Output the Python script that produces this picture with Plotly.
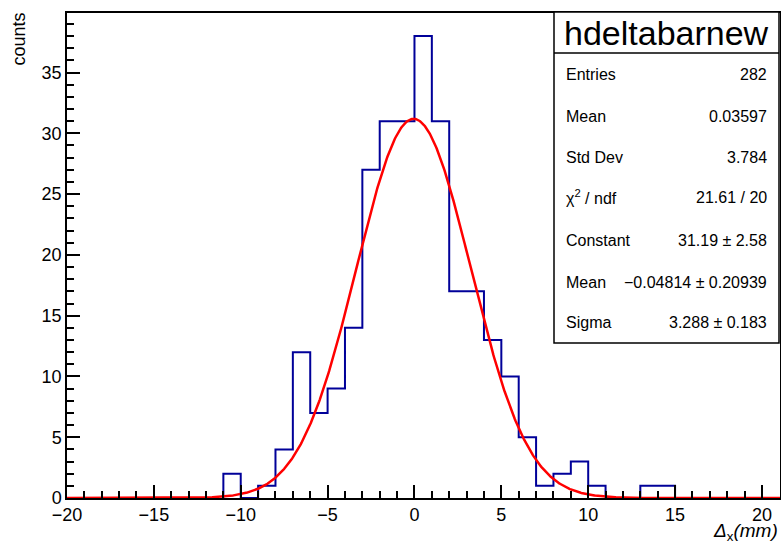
import numpy as np
import plotly.graph_objects as go

# ---- data ----
bin_low_edges = list(range(-11, 15))  # bin width 1
counts = [2, 0, 1, 4, 12, 7, 9, 14, 27, 31, 31, 38, 31, 17, 17, 13, 10, 5, 1, 2, 3, 1, 0, 0, 1, 1]
fit_constant = 31.19
fit_mean = -0.04814
fit_sigma = 3.288

stat_title = "hdeltabarnew"
stat_labels = ["Entries", "Mean", "Std Dev", "χ<sup>2</sup> / ndf", "Constant", "Mean", "Sigma"]
stat_values = ["282", "0.03597", "3.784", "21.61 / 20", "31.19 ± 2.58", "−0.04814 ± 0.20939", "3.288 ± 0.183"]

x_tick_vals = [-20, -15, -10, -5, 0, 5, 10, 15, 20]
y_tick_vals = [0, 5, 10, 15, 20, 25, 30, 35]

# ---- layout geometry ----
W, H = 781, 543
L, R, T, B = 67, 1, 13, 45
X_RANGE = [-20, 21.04]
Y_RANGE = [0, 39.9]
PW = W - L - R
PH = H - T - B


def px(xp):
    return (xp - L) / PW


def py(yp):
    return (H - B - yp) / PH


# histogram step outline from the bin data
bw = 1
sx, sy = [bin_low_edges[0]], [0]
for lo, c in zip(bin_low_edges, counts):
    sx += [lo, lo + bw]
    sy += [c, c]
sx.append(bin_low_edges[-1] + bw)
sy.append(0)

xf = np.linspace(X_RANGE[0], X_RANGE[1], 1200)
yf = fit_constant * np.exp(-0.5 * ((xf - fit_mean) / fit_sigma) ** 2)

fig = go.Figure()
fig.add_trace(go.Scatter(x=sx, y=sy, mode="lines", line=dict(color="#000099", width=2),
                         hoverinfo="skip", showlegend=False))
fig.add_trace(go.Scatter(x=xf, y=yf, mode="lines", line=dict(color="#ff0000", width=2.5),
                         hoverinfo="skip", showlegend=False))

font = "Liberation Sans, Arial, Helvetica, sans-serif"
axis_common = dict(showline=True, linecolor="black", linewidth=1.5, ticks="inside",
                   tickcolor="black", tickwidth=1.5, ticklen=13, showgrid=False, zeroline=False,
                   automargin=False, tickfont=dict(family=font, size=18, color="black"))
fig.update_xaxes(range=X_RANGE, tickvals=x_tick_vals, mirror=True,
                 minor=dict(ticks="inside", ticklen=7, dtick=1, tick0=0, tickcolor="black", tickwidth=1.5, showgrid=False),
                 **axis_common)
fig.update_yaxes(range=Y_RANGE, tickvals=y_tick_vals, mirror=True,
                 minor=dict(ticks="inside", ticklen=7, dtick=1, tick0=0, tickcolor="black", tickwidth=1.5, showgrid=False),
                 **axis_common)

shapes = []
box_l, box_r, box_t, box_b, div_y = 554, 779, 12, 343, 53
shapes.append(dict(type="rect", xref="paper", yref="paper", x0=px(box_l), x1=px(box_r),
                   y0=py(box_b), y1=py(box_t), line=dict(color="black", width=1.5), fillcolor="white", layer="above"))
shapes.append(dict(type="line", xref="paper", yref="paper", x0=px(box_l), x1=px(box_r),
                   y0=py(div_y), y1=py(div_y), line=dict(color="black", width=1.5), layer="above"))

annotations = []
annotations.append(dict(text=stat_title, xref="paper", yref="paper", x=px((box_l + box_r) / 2), y=py(33),
                        xanchor="center", yanchor="middle", showarrow=False,
                        font=dict(family=font, size=34, color="black")))
row_y = [74, 116, 157, 197, 240, 282, 322]
for lab, val, ry in zip(stat_labels, stat_values, row_y):
    annotations.append(dict(text=lab, xref="paper", yref="paper", x=px(564), y=py(ry), xanchor="left",
                            yanchor="middle", showarrow=False, font=dict(family=font, size=16, color="black")))
    annotations.append(dict(text=val, xref="paper", yref="paper", x=px(769), y=py(ry), xanchor="right",
                            yanchor="middle", showarrow=False, font=dict(family=font, size=16, color="black")))

annotations.append(dict(text="counts", xref="paper", yref="paper", x=px(18), y=py(11), textangle=-90,
                        xanchor="center", yanchor="top", showarrow=False,
                        font=dict(family=font, size=18, color="black")))
annotations.append(dict(text="<i>Δ</i><sub>x</sub><i>(mm)</i>", xref="paper", yref="paper", x=px(780), y=py(532),
                        xanchor="right", yanchor="middle", showarrow=False,
                        font=dict(family=font, size=19, color="black")))

fig.update_layout(width=W, height=H, margin=dict(l=L, r=R, t=T, b=B), plot_bgcolor="white",
                  paper_bgcolor="white", shapes=shapes, annotations=annotations, showlegend=False)

fig.write_html("out.html", config={"displayModeBar": False},
               post_script="document.body.style.margin='0';")
